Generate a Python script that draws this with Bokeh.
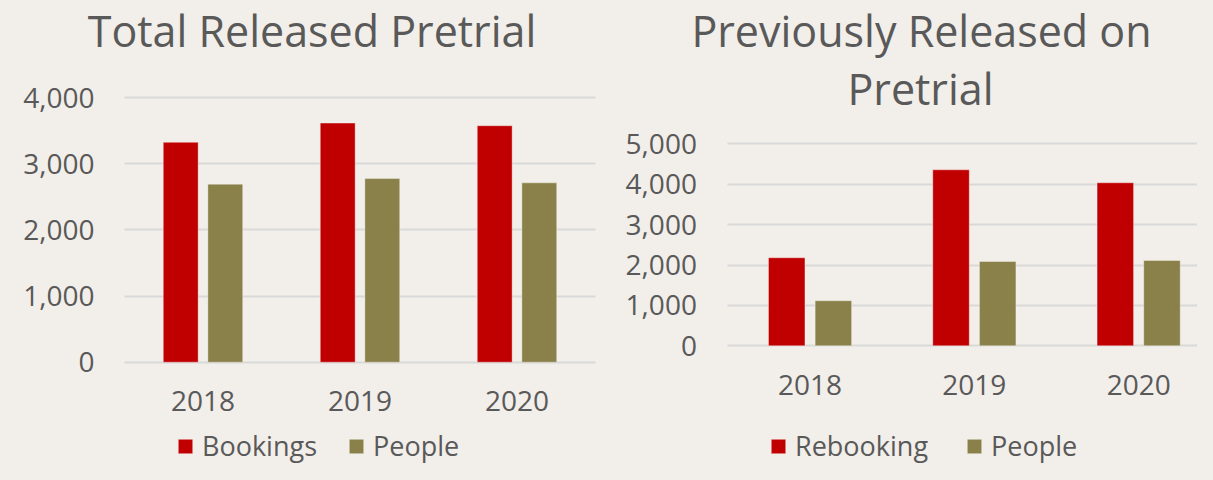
import re
from bokeh.plotting import figure
from bokeh.models import Range1d, FixedTicker, NumeralTickFormatter, Legend, LegendItem, Label, ColumnDataSource
from bokeh.layouts import row
from bokeh.transform import dodge
from bokeh.embed import file_html
from bokeh.resources import INLINE

years = ["2018", "2019", "2020"]
total_bookings = [3322, 3613, 3573]
total_people = [2690, 2775, 2710]
prev_rebooking = [2178, 4356, 4035]
prev_people = [1114, 2087, 2112]

left_ticks = [0, 1000, 2000, 3000, 4000]
right_ticks = [0, 1000, 2000, 3000, 4000, 5000]

BG = "#F2EEE9"
RED = "#C00000"
OLIVE = "#898149"
TXT = "#595959"
GRID = "#D9D9D9"
FONT = "Open Sans"
H = 464
TITLE_SHIFT = 16


def make_panel(width, area_left, area_right, px_per_cat, yticks,
               y_zero_px, y_top_px, s1, s2, names, titles, legend_xy, spacing,
               y_standoff, x_standoff):
    # the frame covers the whole figure; axes are pinned inside it
    x_start = -0.5 - area_left / px_per_cat
    x_end = -0.5 + (area_right - area_left) / px_per_cat
    x_full_end = -0.5 + (width - area_left) / px_per_cat
    top_val = yticks[-1]
    upp = top_val / (y_zero_px - y_top_px)          # data units per pixel
    y_start = -(H - y_zero_px) * upp
    y_end = top_val + y_top_px * upp
    p = figure(width=width, height=H,
               x_range=Range1d(x_start, x_full_end), y_range=Range1d(y_start, y_end),
               output_backend="svg", toolbar_location=None,
               min_border_left=0, min_border_right=0,
               min_border_top=0, min_border_bottom=0)
    p.background_fill_color = BG
    p.border_fill_color = BG
    p.outline_line_color = None

    p.xgrid.visible = False
    grid = p.ygrid[0]
    try:
        grid.cross_bounds = (-0.5, x_end)
        grid.grid_line_color = GRID
        grid.grid_line_width = 1.8
    except Exception:
        grid.visible = False
        p.segment(x0=[-0.5] * len(yticks), x1=[x_end] * len(yticks),
                  y0=yticks, y1=yticks, line_color=GRID, line_width=1.8)

    src = ColumnDataSource(dict(x=list(range(len(years))), a=s1, b=s2))
    r1 = p.vbar(x=dodge("x", -0.142, range=p.x_range), top="a", bottom=0,
                width=0.222, source=src, fill_color=RED, line_color="white",
                line_alpha=0.35, line_width=1)
    r2 = p.vbar(x=dodge("x", 0.142, range=p.x_range), top="b", bottom=0,
                width=0.222, source=src, fill_color=OLIVE, line_color="white",
                line_alpha=0.35, line_width=1)

    p.yaxis.ticker = FixedTicker(ticks=yticks)
    p.yaxis.formatter = NumeralTickFormatter(format="0,0")
    p.yaxis.fixed_location = -0.5
    p.xaxis.ticker = FixedTicker(ticks=list(range(len(years))))
    p.xaxis.major_label_overrides = {i: y for i, y in enumerate(years)}
    p.xaxis.fixed_location = 0

    for ax in (p.xaxis[0], p.yaxis[0]):
        ax.axis_line_color = None
        ax.major_tick_line_color = None
        ax.minor_tick_line_color = None
        ax.major_tick_out = 0
        ax.major_tick_in = 0
        ax.major_label_text_font = FONT
        ax.major_label_text_font_size = "28px"
        ax.major_label_text_color = TXT
    p.yaxis.major_label_standoff = y_standoff
    p.xaxis.major_label_standoff = x_standoff

    for (tx, ty, text) in titles:
        p.add_layout(Label(x=tx, y=H - ty + TITLE_SHIFT, x_units="screen", y_units="screen",
                           text=text, text_font=FONT, text_font_size="43px",
                           text_color=TXT, text_align="center",
                           text_baseline="alphabetic"))

    legend = Legend(items=[LegendItem(label=names[0], renderers=[r1]),
                           LegendItem(label=names[1], renderers=[r2])],
                    location=legend_xy, orientation="horizontal",
                    padding=0, margin=0, spacing=spacing,
                    border_line_alpha=0, background_fill_alpha=0,
                    glyph_width=18, glyph_height=18, label_standoff=8,
                    label_text_font=FONT, label_text_font_size="27px",
                    label_text_color=TXT)
    p.add_layout(legend, "center")
    return p


left = make_panel(600, 124, 595, 157.0, left_ticks, 361.7, 97.0,
                  total_bookings, total_people, ["Bookings", "People"],
                  [(311.5, 46, "Total Released Pretrial")],
                  (176, 0), 30, 30, 29)

right = make_panel(597, 127.4, 597, 164.3, right_ticks, 345.3, 143.3,
                   prev_rebooking, prev_people, ["Rebooking", "People"],
                   [(321, 46, "Previously Released on"),
                    (320, 104, "Pretrial")],
                   (169, 0), 37, 31, 29)

layout = row(left, right)
html = file_html(layout, INLINE)
html = re.sub(r"<body[^>]*>", '<body style="background-color:#F2EEE9;">', html, count=1)
html = html.replace("</head>", "<style>html,body{background:#F2EEE9;}</style></head>", 1)
open("out.html", "w").write(html)
